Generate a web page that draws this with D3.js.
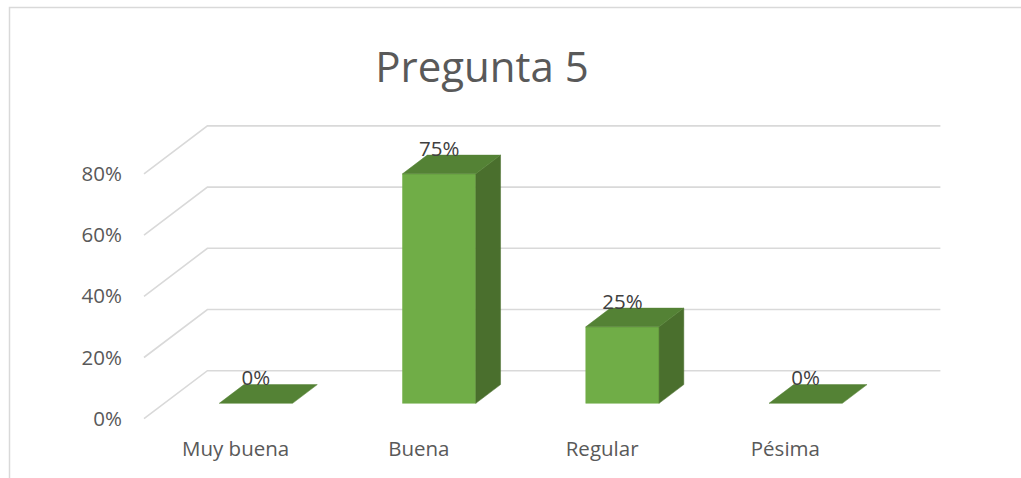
<!DOCTYPE html>
<html>
<head>
<meta charset="utf-8">
<script src="https://cdn.jsdelivr.net/npm/d3@7"></script>
<style>
  html, body { margin: 0; padding: 0; background: #fff; }
  svg { display: block; }
  text { font-family: "Open Sans", sans-serif; }
</style>
</head>
<body>
<svg id="chart" width="1021" height="478"></svg>
<script>
const title = "Pregunta 5";
const categories = ["Muy buena", "Buena", "Regular", "Pésima"];
const values = [0, 0.75, 0.25, 0];
const valueLabels = ["0%", "75%", "25%", "0%"];
const yTicks = [0, 0.2, 0.4, 0.6, 0.8];

const svg = d3.select("#chart");

// Frame
svg.append("rect")
  .attr("x", 9.5).attr("y", 7.5)
  .attr("width", 1200).attr("height", 1000)
  .attr("fill", "none").attr("stroke", "#d9d9d9").attr("stroke-width", 1.5);

// 3D geometry
const originX = 144, originY = 418.7;   // front-left of floor
const plotW = 733;
const depthDX = 63.4, depthDY = 48;

const x = d3.scaleBand().domain(categories).range([0, plotW]).padding(0);
const y = d3.scaleLinear().domain([0, 0.8]).range([0, 244.8]);

function P(px, h, d) {
  return [originX + px + d * depthDX, originY - d * depthDY - h];
}

// Gridlines (left side wall diagonal + back wall)
const grid = svg.append("g");
yTicks.forEach(t => {
  const a = P(0, y(t), 0), b = P(0, y(t), 1), c = P(plotW, y(t), 1);
  grid.append("polyline")
    .attr("points", [a, b, c].map(p => p.join(",")).join(" "))
    .attr("fill", "none").attr("stroke", "#d9d9d9").attr("stroke-width", 1.6);
});

// Y labels
svg.append("g").selectAll("text").data(yTicks).join("text")
  .attr("x", 122)
  .attr("y", t => P(0, y(t), 0)[1])
  .attr("dy", "0.35em")
  .attr("text-anchor", "end")
  .attr("font-size", 20.5)
  .attr("fill", "#595959")
  .text(d3.format(".0%"));

// Bars
const d0 = 0.32, d1 = 0.71;
const barFrac = 0.4;
const bars = svg.append("g");
categories.forEach((c, i) => {
  const bw = x.bandwidth() * barFrac;
  const xl = x(c) + x.bandwidth() / 2 - bw / 2, xr = xl + bw;
  const h = y(values[i]);
  const poly = (pts, fill) => bars.append("polygon")
    .attr("points", pts.map(p => p.join(",")).join(" "))
    .attr("fill", fill).attr("stroke", fill).attr("stroke-width", 0.5);
  if (h > 0.5) {
    poly([P(xl, 0, d0), P(xr, 0, d0), P(xr, h, d0), P(xl, h, d0)], "#70ad47");
    poly([P(xr, 0, d0), P(xr, 0, d1), P(xr, h, d1), P(xr, h, d0)], "#4a6f2d");
  }
  poly([P(xl, h, d0), P(xr, h, d0), P(xr, h, d1), P(xl, h, d1)], "#548235");

  const top = P(xl + bw / 2, h, d0);
  svg.append("text")
    .attr("x", top[0]).attr("y", top[1] - 18)
    .attr("text-anchor", "middle")
    .attr("font-size", 20.5)
    .attr("fill", "#404040")
    .text(valueLabels[i]);
});

// Category labels
svg.append("g").selectAll("text").data(categories).join("text")
  .attr("x", c => P(x(c) + x.bandwidth() / 2, 0, 0)[0])
  .attr("y", 456)
  .attr("text-anchor", "middle")
  .attr("font-size", 20.5)
  .attr("fill", "#595959")
  .text(c => c);

// Title
svg.append("text")
  .attr("x", 482).attr("y", 82)
  .attr("text-anchor", "middle")
  .attr("font-size", 42)
  .attr("fill", "#595959")
  .text(title);
</script>
</body>
</html>
